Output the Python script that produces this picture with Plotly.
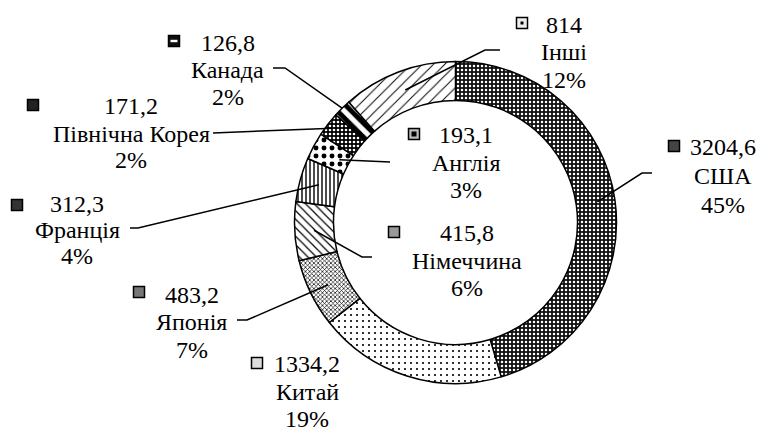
import math
import plotly.graph_objects as go

# ---- data ----
countries = ["США", "Китай", "Японія", "Німеччина", "Франція", "Англія",
             "Північна Корея", "Канада", "Інші"]
values = [3204.6, 1334.2, 483.2, 415.8, 312.3, 193.1, 171.2, 126.8, 814]

# ---- styling ----
W, H = 761, 428
CX, CY, R = 455.5, 222.5, 161.0
HOLE = 0.758
FONT = "Liberation Serif"
FS = 24

patterns = [
    dict(shape=".", bgcolor="#111111", fgcolor="white", size=4, solidity=0.3),   # США
    dict(shape=".", bgcolor="white", fgcolor="black", size=6, solidity=0.1),     # Китай
    dict(shape="x", bgcolor="white", fgcolor="black", size=3, solidity=0.4),     # Японія
    dict(shape="\\", bgcolor="white", fgcolor="black", size=6, solidity=0.2),    # Німеччина
    dict(shape="|", bgcolor="white", fgcolor="black", size=4, solidity=0.35),    # Франція
    dict(shape=".", bgcolor="white", fgcolor="black", size=8, solidity=0.3),     # Англія
    dict(shape=".", bgcolor="black", fgcolor="white", size=4, solidity=0.35),    # Північна Корея
    dict(shape="\\", bgcolor="white", fgcolor="black", size=10, solidity=0.5),   # Канада
    dict(shape="/", bgcolor="white", fgcolor="black", size=8, solidity=0.12),    # Інші
]
key_fill = ["#444444", "#dddddd", "#777777", "#999999", "#333333",
            "#bbbbbb", "#222222", "#111111", "#eeeeee"]
# small inner detail of some keys: (fill colour, half-width, half-height)
key_inner = {7: ("white", 3.5, 1.2), 5: ("black", 2.5, 2.5), 8: ("black", 1.5, 1.5)}

# label layout (pixel positions): marker centre, text centre x, line centres y
label_pos = [
    dict(mk=(674, 146), x=723, ys=(147, 176, 205)),   # США
    dict(mk=(257, 363), x=307, ys=(364, 392, 419)),   # Китай
    dict(mk=(139, 292), x=192, ys=(295, 322, 350)),   # Японія
    dict(mk=(394, 232), x=467, ys=(233, 261, 288)),   # Німеччина
    dict(mk=(17, 205), x=77, ys=(204, 230, 256)),     # Франція
    dict(mk=(414, 134), x=466, ys=(135, 163, 190)),   # Англія
    dict(mk=(33, 105), x=131, ys=(106, 134, 160)),    # Північна Корея
    dict(mk=(174, 41), x=228, ys=(43, 70, 97)),       # Канада
    dict(mk=(522, 23), x=564, ys=(25, 52, 80)),       # Інші
]
# leader lines: radius factor of start point, then path points (pixels)
leaders = [
    (0.89, [(642, 173), (652, 173)]),
    None,
    (0.88, [(247, 320), (237, 320)]),
    (0.88, [(362, 257), (372, 257)]),
    (0.88, [(138, 228), (130, 228)]),
    (0.82, [(390, 162)]),
    (0.96, [(213, 133)]),
    (1.00, [(285, 68), (273, 68)]),
    (0.88, [(485, 50), (500, 50)]),
]


def px(x):
    return x / W


def py(y):
    return 1 - y / H


total = sum(values)
fig = go.Figure()
fig.add_trace(go.Pie(
    labels=countries, values=values, sort=False, direction="clockwise",
    rotation=0, hole=HOLE, textinfo="none", hoverinfo="none", showlegend=False,
    marker=dict(colors=["white"] * len(values),
                line=dict(color="black", width=1.5),
                pattern=dict(
                    shape=[p["shape"] for p in patterns],
                    bgcolor=[p["bgcolor"] for p in patterns],
                    fgcolor=[p["fgcolor"] for p in patterns],
                    size=[p["size"] for p in patterns],
                    solidity=[p["solidity"] for p in patterns],
                    fillmode="replace")),
    domain=dict(x=[px(CX - R), px(CX + R)], y=[py(CY + R), py(CY - R)]),
))

shapes = []
annotations = []
cum = 0.0
for i, (name, v) in enumerate(zip(countries, values)):
    frac = v / total
    mid = (cum + frac / 2) * 2 * math.pi
    cum += frac
    lead = leaders[i]
    if lead is not None:
        k, pts = lead
        sx = CX + k * R * math.sin(mid)
        sy = CY - k * R * math.cos(mid)
        path = f"M {px(sx)} {py(sy)}" + "".join(
            f" L {px(x)} {py(y)}" for x, y in pts)
        shapes.append(dict(type="path", path=path, xref="paper", yref="paper",
                           line=dict(color="black", width=1.5)))
    lp = label_pos[i]
    mx, my = lp["mk"]
    shapes.append(dict(type="rect", xref="paper", yref="paper",
                       x0=px(mx - 5.5), x1=px(mx + 5.5),
                       y0=py(my + 5.5), y1=py(my - 5.5),
                       fillcolor=key_fill[i], line=dict(color="black", width=1.5)))
    if i in key_inner:
        c, hw, hh = key_inner[i]
        shapes.append(dict(type="rect", xref="paper", yref="paper",
                           x0=px(mx - hw), x1=px(mx + hw),
                           y0=py(my + hh), y1=py(my - hh),
                           fillcolor=c, line=dict(width=0)))
    vtxt = f"{v:g}".replace(".", ",")
    ptxt = f"{round(frac * 100)}%"
    for txt, yy in zip([vtxt, name, ptxt], lp["ys"]):
        annotations.append(dict(text=txt, x=px(lp["x"]), y=py(yy),
                                xref="paper", yref="paper", xanchor="center",
                                yanchor="middle", showarrow=False,
                                font=dict(family=FONT, size=FS, color="black")))

fig.update_layout(width=W, height=H, margin=dict(l=0, r=0, t=0, b=0),
                  paper_bgcolor="white", plot_bgcolor="white",
                  font=dict(family=FONT),
                  shapes=shapes, annotations=annotations)
fig.write_html("out.html", config={"displayModeBar": False},
               post_script="document.body.style.margin='0';"
                           "document.body.style.overflow='hidden';")
